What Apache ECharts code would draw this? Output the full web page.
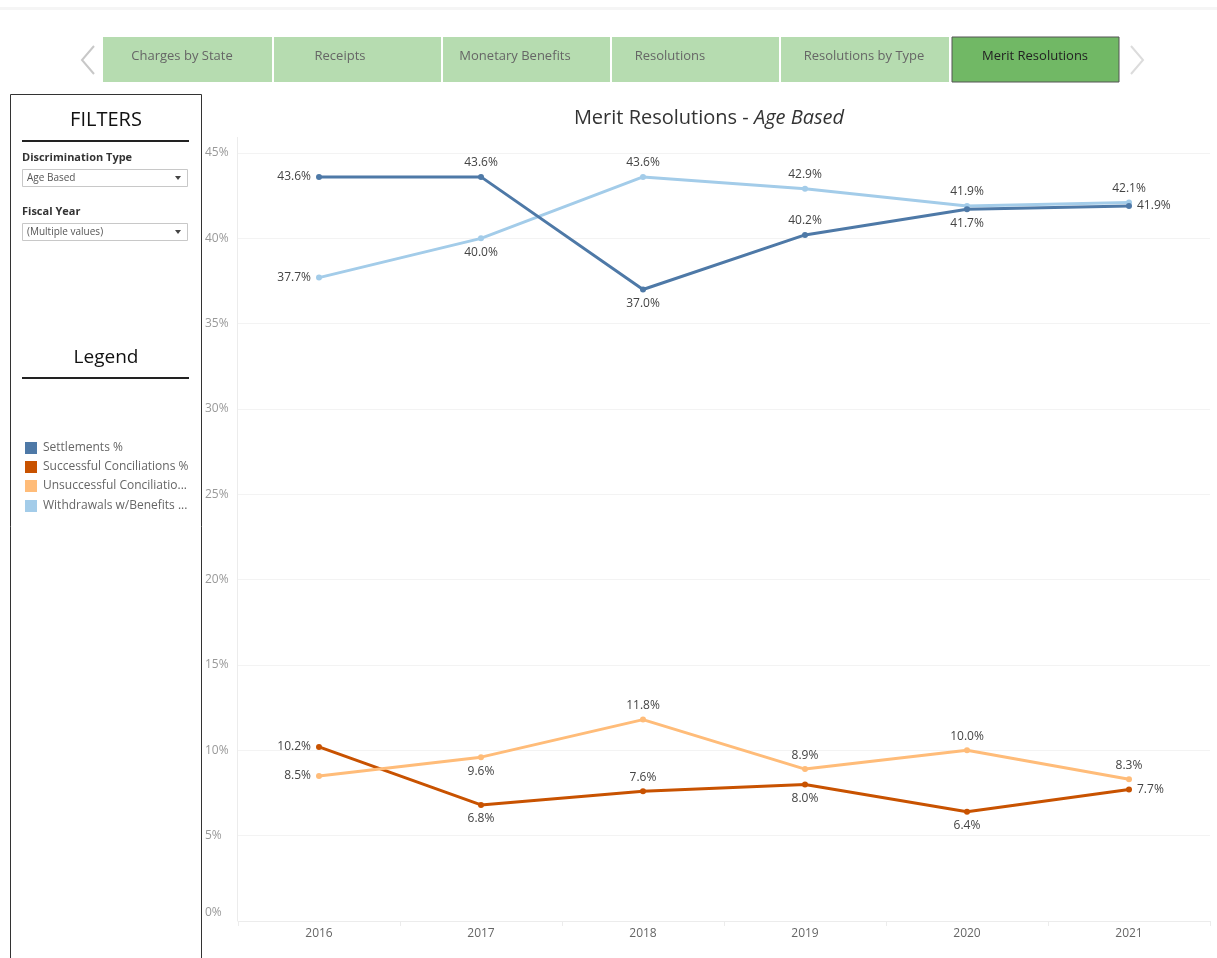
<!DOCTYPE html>
<html>
<head>
<meta charset="utf-8">
<script src="https://cdn.jsdelivr.net/npm/echarts@6/dist/echarts.min.js"></script>
<style>
  html, body { margin: 0; padding: 0; background: #fff; }
  #chart { width: 1217px; height: 958px; }
</style>
</head>
<body>
<div id="chart"></div>
<script>
// ---- Data ----
const years = ['2016', '2017', '2018', '2019', '2020', '2021'];
const settlements = [43.6, 43.6, 37.0, 40.2, 41.7, 41.9];
const successfulConciliations = [10.2, 6.8, 7.6, 8.0, 6.4, 7.7];
const unsuccessfulConciliations = [8.5, 9.6, 11.8, 8.9, 10.0, 8.3];
const withdrawalsWithBenefits = [37.7, 40.0, 43.6, 42.9, 41.9, 42.1];
const seriesNames = ['Settlements %', 'Successful Conciliations %', 'Unsuccessful Conciliatio...', 'Withdrawals w/Benefits ...'];
const tabNames = ['Charges by State', 'Receipts', 'Monetary Benefits', 'Resolutions', 'Resolutions by Type', 'Merit Resolutions'];
const yTicks = [0, 5, 10, 15, 20, 25, 30, 35, 40, 45];

// ---- Styling ----
const colors = ['#4e79a7', '#c85200', '#ffbc79', '#a3cce9'];
const placements = [
  ['left', 'top', 'bottom', 'top', 'bottom', 'right'],
  ['left', 'bottom', 'top', 'bottom', 'bottom', 'right'],
  ['left', 'bottom', 'top', 'top', 'top', 'top'],
  ['left', 'bottom', 'top', 'top', 'top', 'top']
];
const seriesData = [settlements, successfulConciliations, unsuccessfulConciliations, withdrawalsWithBenefits];
const FONT = '"Open Sans", "Noto Sans", sans-serif';

const chart = echarts.init(document.getElementById('chart'), null, { renderer: 'canvas' });

const graphics = [];
// top faint line
graphics.push({ type: 'rect', shape: { x: 0, y: 7, width: 1217, height: 3 }, style: { fill: '#f5f5f5' }, silent: true });

// tabs
const tabX = [103, 274, 443, 612, 781, 952];
const tabW = [169, 167, 167, 167, 168, 167];
const tabTextX = [182, 340, 515, 670, 864, 1035];
tabNames.forEach((t, i) => {
  const active = i === tabNames.length - 1;
  graphics.push({
    type: 'rect',
    shape: { x: tabX[i], y: 37, width: tabW[i], height: 45 },
    style: { fill: active ? '#71b865' : '#b6dcb0', stroke: active ? '#555' : null, lineWidth: active ? 1 : 0 }
  });
  graphics.push({
    type: 'text', x: tabTextX[i], y: 56,
    style: { text: t, fill: active ? '#222' : '#666', font: '13px ' + FONT, textAlign: 'center', textVerticalAlign: 'middle' }
  });
});
// arrows
graphics.push({ type: 'polyline', shape: { points: [[94, 46], [82, 60], [94, 74]] }, style: { stroke: '#c8c8c8', lineWidth: 2, fill: null } });
graphics.push({ type: 'polyline', shape: { points: [[1131, 46], [1143, 60], [1131, 74]] }, style: { stroke: '#dcdcdc', lineWidth: 2, fill: null } });

// filters panel
graphics.push({ type: 'rect', shape: { x: 10.5, y: 94.5, width: 191, height: 880 }, style: { fill: null, stroke: '#333', lineWidth: 1 } });
graphics.push({ type: 'text', x: 106, y: 120, style: { text: 'FILTERS', fill: '#111', font: '20px ' + FONT, textAlign: 'center', textVerticalAlign: 'middle' } });
graphics.push({ type: 'rect', shape: { x: 22, y: 140, width: 167, height: 2 }, style: { fill: '#222' } });
graphics.push({ type: 'text', x: 22, y: 158, style: { text: 'Discrimination Type', fill: '#333', font: 'bold 11px ' + FONT, textVerticalAlign: 'middle' } });
graphics.push({ type: 'rect', shape: { x: 22.5, y: 169.5, width: 165, height: 17 }, style: { fill: '#fff', stroke: '#c8c8c8', lineWidth: 1 } });
graphics.push({ type: 'text', x: 27, y: 178, style: { text: 'Age Based', fill: '#555', font: '10px ' + FONT, textVerticalAlign: 'middle' } });
graphics.push({ type: 'polygon', shape: { points: [[175, 176], [181, 176], [178, 180]] }, style: { fill: '#444' } });
graphics.push({ type: 'text', x: 22, y: 212, style: { text: 'Fiscal Year', fill: '#333', font: 'bold 11px ' + FONT, textVerticalAlign: 'middle' } });
graphics.push({ type: 'rect', shape: { x: 22.5, y: 223.5, width: 165, height: 17 }, style: { fill: '#fff', stroke: '#c8c8c8', lineWidth: 1 } });
graphics.push({ type: 'text', x: 27, y: 232, style: { text: '(Multiple values)', fill: '#555', font: '10px ' + FONT, textVerticalAlign: 'middle' } });
graphics.push({ type: 'polygon', shape: { points: [[175, 230], [181, 230], [178, 234]] }, style: { fill: '#444' } });
graphics.push({ type: 'text', x: 106, y: 358, style: { text: 'Legend', fill: '#111', font: '19px ' + FONT, textAlign: 'center', textVerticalAlign: 'middle' } });
graphics.push({ type: 'rect', shape: { x: 22, y: 377, width: 167, height: 2 }, style: { fill: '#222' } });
const legendY = [448, 467, 486, 506];
seriesNames.forEach((n, i) => {
  graphics.push({ type: 'rect', shape: { x: 25, y: legendY[i] - 6, width: 12, height: 12 }, style: { fill: colors[i] } });
  graphics.push({ type: 'text', x: 43, y: legendY[i], style: { text: n, fill: '#666', font: '12px ' + FONT, textVerticalAlign: 'middle' } });
});

// title
graphics.push({
  type: 'text', x: 709, y: 118,
  style: {
    text: '{a|Merit Resolutions - }{b|Age Based}',
    textAlign: 'center', textVerticalAlign: 'middle',
    rich: {
      a: { fontSize: 20, fontFamily: FONT, fill: '#333', color: '#333' },
      b: { fontSize: 20, fontFamily: FONT, fontStyle: 'italic', fill: '#333', color: '#333' }
    }
  }
});
// vertical axis line
graphics.push({ type: 'rect', shape: { x: 237, y: 137, width: 1, height: 784 }, style: { fill: '#ececec' }, silent: true });

const series = seriesData.map((arr, si) => ({
  name: seriesNames[si],
  type: 'line',
  data: arr.map((v, i) => ({
    value: v,
    label: { position: placements[si][i] }
  })),
  symbol: 'circle',
  symbolSize: 6,
  lineStyle: { width: 3, color: colors[si] },
  itemStyle: { color: colors[si] },
  label: {
    show: true,
    formatter: p => p.value.toFixed(1) + '%',
    color: '#444',
    fontSize: 12,
    fontFamily: FONT,
    distance: 5
  },
  emphasis: { disabled: true },
  z: si === 0 ? 4 : 3
}));

chart.setOption({
  animation: false,
  graphic: graphics,
  grid: { left: 238, right: 7, top: 153, bottom: 37 },
  xAxis: {
    type: 'category',
    data: years,
    boundaryGap: true,
    axisLine: { show: true, lineStyle: { color: '#ececec', width: 1 } },
    axisTick: { show: true, length: 5, lineStyle: { color: '#ececec' } },
    axisLabel: { color: '#666', fontSize: 12, fontFamily: FONT, margin: 7 }
  },
  yAxis: {
    type: 'value',
    min: yTicks[0],
    max: yTicks[yTicks.length - 1],
    interval: 5,
    axisLine: { show: false },
    axisTick: { show: false },
    axisLabel: {
      color: '#999', fontSize: 12, fontFamily: FONT, align: 'left', margin: 33,
      formatter: v => v === 0 ? '{z|0%}' : v + '%',
      rich: { z: { color: '#999', fontSize: 12, fontFamily: FONT, padding: [0, 0, 16, 0] } }
    },
    splitLine: { lineStyle: { color: '#f3f3f3', width: 1 } }
  },
  series: series
});
</script>
</body>
</html>
